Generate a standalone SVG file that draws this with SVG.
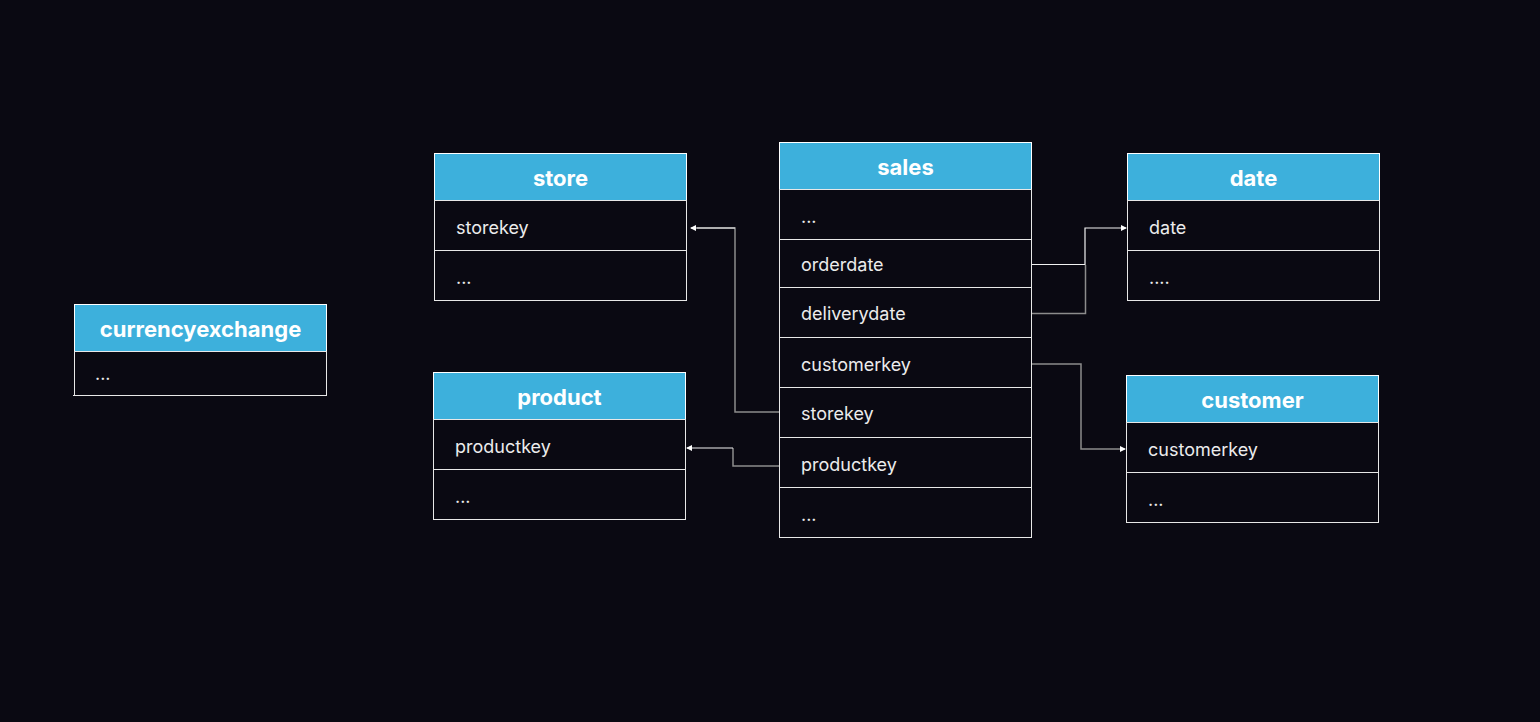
<svg xmlns="http://www.w3.org/2000/svg" width="1540" height="722" viewBox="0 0 1540 722">
<style>
.hd{fill:#3db0dc;stroke:#ffffff;stroke-width:1}
.rw{fill:#0a0912;stroke:#e8e8e8;stroke-width:1}
.ht{font-family:Inter,"Liberation Sans",sans-serif;font-weight:700;font-size:22px;fill:#ffffff;text-anchor:middle}
.rt{font-family:Inter,"Liberation Sans",sans-serif;font-size:18px;fill:#ececec}
.cg{fill:none;stroke:#8c8c8c;stroke-width:1.5}
.cw{fill:none;stroke:#f2f2f2;stroke-width:1.2}
</style>
<defs>
<marker id="ah" markerWidth="6" markerHeight="6" refX="5" refY="3" orient="auto" markerUnits="userSpaceOnUse">
<path d="M0,0 L6,3 L0,6 z" fill="#ffffff"/>
</marker>
</defs>
<rect width="1540" height="722" fill="#0a0912"/>
<g id="connectors">
<polyline class="cg" points="779,412 735,412 735,228 697,228"/>
<polyline class="cw" points="735,228 691,228" marker-end="url(#ah)"/>
<polyline class="cg" points="779,466 733,466 733,448"/>
<polyline class="cw" points="733,448 687,448" marker-end="url(#ah)"/>
<polyline class="cw" points="1031,264.5 1085,264.5 1085,228 1126,228" marker-end="url(#ah)"/>
<polyline class="cg" points="1031,313.5 1085.5,313.5 1085.5,265"/>
<polyline class="cg" points="1031,364 1081,364 1081,449 1125,449" marker-end="url(#ah)"/>
</g>
<g id="store">
<rect class="hd" x="434.5" y="153.5" width="252" height="47"/>
<rect class="rw" x="434.5" y="200.5" width="252" height="50"/>
<rect class="rw" x="434.5" y="250.5" width="252" height="50"/>
<text class="ht" x="560.5" y="186">store</text>
<text class="rt" x="456" y="234">storekey</text>
<text class="rt" x="456" y="284">...</text>
</g>
<g id="product">
<rect class="hd" x="433.5" y="372.5" width="252" height="47"/>
<rect class="rw" x="433.5" y="419.5" width="252" height="50"/>
<rect class="rw" x="433.5" y="469.5" width="252" height="50"/>
<text class="ht" x="559.5" y="405">product</text>
<text class="rt" x="455" y="453">productkey</text>
<text class="rt" x="455" y="503">...</text>
</g>
<g id="currencyexchange">
<rect class="hd" x="74.5" y="304.5" width="252" height="47"/>
<rect class="rw" x="74.5" y="351.5" width="252" height="44"/>
<line x1="73" y1="395.5" x2="75" y2="395.5" stroke="#e8e8e8"/>
<text class="ht" x="200.5" y="337">currencyexchange</text>
<text class="rt" x="95" y="380">...</text>
</g>
<g id="sales">
<rect class="hd" x="779.5" y="142.5" width="252" height="47"/>
<rect class="rw" x="779.5" y="189.5" width="252" height="50"/>
<rect class="rw" x="779.5" y="239.5" width="252" height="48"/>
<rect class="rw" x="779.5" y="287.5" width="252" height="50"/>
<rect class="rw" x="779.5" y="337.5" width="252" height="50"/>
<rect class="rw" x="779.5" y="387.5" width="252" height="50"/>
<rect class="rw" x="779.5" y="437.5" width="252" height="50"/>
<rect class="rw" x="779.5" y="487.5" width="252" height="50"/>
<text class="ht" x="905.5" y="175">sales</text>
<text class="rt" x="801" y="223">...</text>
<text class="rt" x="801" y="271">orderdate</text>
<text class="rt" x="801" y="320">deliverydate</text>
<text class="rt" x="801" y="371">customerkey</text>
<text class="rt" x="801" y="420">storekey</text>
<text class="rt" x="801" y="471">productkey</text>
<text class="rt" x="801" y="521">...</text>
</g>
<g id="date">
<rect class="hd" x="1127.5" y="153.5" width="252" height="47"/>
<rect class="rw" x="1127.5" y="200.5" width="252" height="50"/>
<rect class="rw" x="1127.5" y="250.5" width="252" height="50"/>
<text class="ht" x="1253.5" y="186">date</text>
<text class="rt" x="1149" y="234">date</text>
<text class="rt" x="1149" y="284">....</text>
</g>
<g id="customer">
<rect class="hd" x="1126.5" y="375.5" width="252" height="47"/>
<rect class="rw" x="1126.5" y="422.5" width="252" height="50"/>
<rect class="rw" x="1126.5" y="472.5" width="252" height="50"/>
<text class="ht" x="1252.5" y="408">customer</text>
<text class="rt" x="1148" y="456">customerkey</text>
<text class="rt" x="1148" y="506">...</text>
</g>
</svg>
